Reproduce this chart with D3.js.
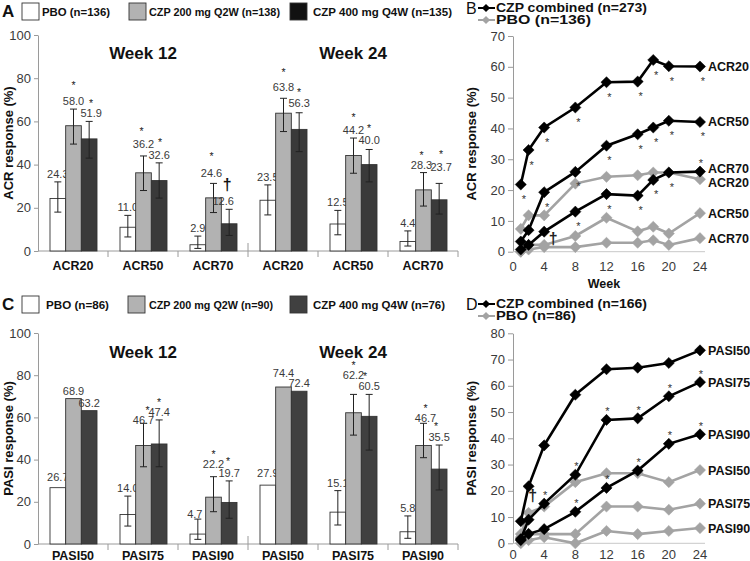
<!DOCTYPE html>
<html><head><meta charset="utf-8">
<script src="https://cdn.jsdelivr.net/npm/d3@7"></script>
<style>body{margin:0;background:#fff}svg{display:block}</style>
</head><body>
<svg id="c" width="750" height="561"></svg>
<script>
// ---------------- Panel A : ACR bars ----------------
const acrCats   = ["ACR20","ACR50","ACR70","ACR20","ACR50","ACR70"];
const acrTitles = ["Week 12","Week 24"];
const acrPbo    = [24.3, 11.0, 2.9, 23.5, 12.5, 4.4];
const acrQ2w    = [58.0, 36.2, 24.6, 63.8, 44.2, 28.3];
const acrQ4w    = [51.9, 32.6, 12.6, 56.3, 40.0, 23.7];
const acrPboLo  = [18.0, 6.5, 1.2, 16.7, 7.5, 2.3];
const acrPboHi  = [32.0, 16.5, 6.9, 30.6, 18.8, 9.3];
const acrQ2wLo  = [49.5, 28.0, 17.8, 55.3, 36.0, 20.8];
const acrQ2wHi  = [65.7, 44.0, 31.3, 70.7, 52.3, 36.3];
const acrQ4wLo  = [43.0, 24.5, 7.2, 46.0, 32.0, 17.1];
const acrQ4wHi  = [60.0, 40.8, 19.3, 64.0, 47.0, 31.3];
const acrPboSig = ["","","","","",""];
const acrQ2wSig = ["*","*","*","*","*","*"];
const acrQ4wSig = ["*","*","†","*","*","*"];
const acrLegend = ["PBO (n=136)","CZP 200 mg Q2W (n=138)","CZP 400 mg Q4W (n=135)"];

// ---------------- Panel C : PASI bars ----------------
const pasiCats   = ["PASI50","PASI75","PASI90","PASI50","PASI75","PASI90"];
const pasiTitles = ["Week 12","Week 24"];
const pasiPbo    = [26.7, 14.0, 4.7, 27.9, 15.1, 5.8];
const pasiQ2w    = [68.9, 46.7, 22.2, 74.4, 62.2, 46.7];
const pasiQ4w    = [63.2, 47.4, 19.7, 72.4, 60.5, 35.5];
const pasiPboLo  = [null, 8.5, 2.2, null, 9.0, 2.7];
const pasiPboHi  = [null, 22.7, 11.8, null, 25.3, 13.3];
const pasiQ2wLo  = [null, 36.6, 15.3, null, 51.6, 40.9];
const pasiQ2wHi  = [null, 57.2, 31.9, null, 70.9, 57.2];
const pasiQ4wLo  = [null, 36.6, 12.2, null, 44.5, 25.6];
const pasiQ4wHi  = [null, 58.8, 29.9, null, 70.9, 46.9];
const pasiPboSig = ["","","","","",""];
const pasiQ2wSig = ["","*","*","","*","*"];
const pasiQ4wSig = ["","*","*","","*","*"];
const pasiLegend = ["PBO (n=86)","CZP 200 mg Q2W (n=90)","CZP 400 mg Q4W (n=76)"];

const barTicks = [0,20,40,60,80,100];

// ---------------- Panel B : ACR over time ----------------
const bWeeks   = [1, 2, 4, 8, 12, 16, 18, 20, 24];
const bCzp20   = [21.8, 33.0, 40.3, 46.8, 55.0, 55.2, 62.2, 60.2, 60.1];
const bCzp50   = [3.3, 7.0, 19.3, 25.9, 34.4, 38.1, 40.3, 42.5, 42.1];
const bCzp70   = [0.7, 2.2, 6.5, 13.0, 18.7, 18.2, 23.3, 25.7, 26.0];
const bPbo20   = [7.4, 11.8, 11.8, 22.1, 24.3, 24.8, 25.7, 25.7, 23.5];
const bPbo50   = [0.0, 2.2, 2.2, 5.1, 11.0, 6.6, 8.1, 5.9, 12.5];
const bPbo70   = [0.0, 0.7, 1.5, 1.5, 2.9, 2.9, 3.7, 2.2, 4.4];
const bSig20   = ["*","*","*","*","*","*","*","*","*"];
const bSig50   = ["","","*","*","*","*","*","*","*"];
const bSig70   = ["","","†","*","*","*","*","*","^*"];
const bNames   = ["ACR20","ACR50","ACR70"];
const bLegend  = ["CZP combined (n=273)","PBO (n=136)"];
const bTicks   = [0,10,20,30,40,50,60,70];

// ---------------- Panel D : PASI over time ----------------
const dWeeks   = [1, 2, 4, 8, 12, 16, 20, 24];
const dCzp50   = [8.4, 21.7, 37.3, 56.6, 66.3, 66.9, 68.7, 73.5];
const dCzp75   = [1.6, 9.0, 15.1, 26.1, 47.0, 47.6, 56.0, 61.4];
const dCzp90   = [1.2, 3.6, 5.4, 12.0, 21.1, 27.7, 37.9, 41.5];
const dPbo50   = [3.5, 11.6, 14.0, 23.3, 26.7, 26.7, 23.3, 27.9];
const dPbo75   = [2.3, 3.5, 3.5, 3.5, 14.0, 14.0, 12.8, 15.1];
const dPbo90   = [0.0, 1.2, 2.3, 0.0, 4.7, 3.5, 4.7, 5.8];
const dSig50   = ["","","","","","","",""];
const dSig75   = ["","†","*","*","*","*","*","*"];
const dSig90   = ["","","","*","*","*","*","*"];
const dNames   = ["PASI50","PASI75","PASI90"];
const dLegend  = ["CZP combined (n=166)","PBO (n=86)"];
const dTicks   = [0,10,20,30,40,50,60,70,80];

const weekTicks = [0,4,8,12,16,20,24];

// ====================================================
const FONT = '"Liberation Sans", Arial, Helvetica, sans-serif';
const svg = d3.select("#c").attr("font-family", FONT);
const AXIS = "#9a9a9a", TXT = "#3a3a3a";

function styleAxis(g, fs){
  g.select(".domain").attr("stroke", AXIS);
  g.selectAll(".tick line").attr("stroke", AXIS);
  g.selectAll(".tick text").attr("fill", TXT).attr("font-size", fs).attr("font-family", FONT);
}

function barPanel(p){
  const g = svg.append("g");
  const x = d3.scaleBand().domain(d3.range(p.cats.length)).range([38, 458]);
  const xs = d3.scaleBand().domain([0,1,2]).range([12, x.bandwidth()-11]);
  const y = d3.scaleLinear().domain([0,100]).range([p.yBase, p.yTop]);

  const ya = g.append("g").attr("transform","translate(38,0)")
    .call(d3.axisLeft(y).tickValues(barTicks).tickSize(4).tickPadding(3).tickSizeOuter(0));
  styleAxis(ya, 13);

  g.append("line").attr("x1",38).attr("x2",458).attr("y1",y(0)).attr("y2",y(0)).attr("stroke",AXIS);
  d3.range(1, p.cats.length+1).forEach(i=>{
    const xx = x.range()[0] + i*x.step();
    g.append("line").attr("x1",xx).attr("x2",xx)
      .attr("y1", i===3 ? y(0)-8 : y(0)).attr("y2", y(0)+6).attr("stroke",AXIS);
  });
  g.selectAll(".cat").data(p.cats).join("text")
    .attr("x",(d,i)=>x(i)+x.bandwidth()/2).attr("y",y(0)+p.catDy)
    .attr("text-anchor","middle").attr("font-weight","bold").attr("font-size",12.5).attr("fill","#111")
    .text(d=>d);

  p.titles.forEach((t,k)=>{
    g.append("text").attr("x", x(k*3) + 1.5*x.step()).attr("y", p.titleY)
      .attr("text-anchor","middle").attr("font-weight","bold").attr("font-size",17).attr("fill","#111").text(t);
  });

  const series = [
    {v:p.pbo, lo:p.pboLo, hi:p.pboHi, sig:p.pboSig, fill:"#ffffff"},
    {v:p.q2w, lo:p.q2wLo, hi:p.q2wHi, sig:p.q2wSig, fill:"#b2b2b2"},
    {v:p.q4w, lo:p.q4wLo, hi:p.q4wHi, sig:p.q4wSig, fill:p.dark}
  ];
  series.forEach((s,si)=>{
    s.v.forEach((v,i)=>{
      const x0 = x(i)+xs(si), w = xs.bandwidth(), cx = x0 + w/2;
      g.append("rect").attr("x",x0).attr("y",y(v)).attr("width",w).attr("height",y(0)-y(v))
        .attr("fill",s.fill).attr("stroke","#333").attr("stroke-width",0.9);
      let top = y(v);
      if(s.lo[i]!=null){
        const y1 = y(s.hi[i]), y2 = y(s.lo[i]);
        g.append("line").attr("x1",cx).attr("x2",cx).attr("y1",y1).attr("y2",y2).attr("stroke","#222").attr("stroke-width",1);
        [y1,y2].forEach(yy=>g.append("line").attr("x1",cx-3.5).attr("x2",cx+3.5).attr("y1",yy).attr("y2",yy).attr("stroke","#222"));
        top = y1;
      }
      const adj = p.lblAdj[si][i];
      const base = top - 4 + adj[1];
      const lx = cx + adj[0];
      g.append("text").attr("x",lx).attr("y",base).attr("text-anchor","middle")
        .attr("font-size",11).attr("fill",TXT).text(v.toFixed(1));
      const lc = base - 4;
      const sa = p.sigAdj[si][i];
      if(s.sig[i]==="*"){
        g.append("text").attr("x",lx+sa[0]).attr("y",lc+p.sigDy+sa[1]+6).attr("text-anchor","middle")
          .attr("font-size",10.5).attr("fill","#222").text("*");
      } else if(s.sig[i]==="†"){
        g.append("text").attr("x",lx+sa[0]+2).attr("y",lc-16+sa[1]+5).attr("text-anchor","middle")
          .attr("font-size",16).attr("font-weight","bold").attr("fill","#111").text("†");
      }
    });
  });

  const fills = ["#ffffff","#b2b2b2",p.darkLegend];
  p.legend.forEach((t,k)=>{
    g.append("rect").attr("x",p.boxX[k]).attr("y",p.legY).attr("width",17).attr("height",17)
      .attr("fill",fills[k]).attr("stroke","#333").attr("stroke-width",0.9);
    g.append("text").attr("x",p.txtX[k]).attr("y",p.legY+13).attr("font-size",11.5).attr("font-weight","bold")
      .attr("fill","#111").attr("textLength",p.txtW[k]).attr("lengthAdjust","spacingAndGlyphs").text(t);
  });
  g.append("text").attr("x",2).attr("y",p.legY+14).attr("font-size",17).attr("font-weight","bold").attr("fill","#111").text(p.letter);

  g.append("text").attr("transform",`translate(8,${(p.yBase+p.yTop)/2}) rotate(-90)`)
    .attr("text-anchor","middle").attr("dominant-baseline","central")
    .attr("font-size",13).attr("font-weight","bold").attr("fill","#111").text(p.yTitle);
}

const diamond = d3.symbol(d3.symbolSquare, 62);
const diamondSmall = d3.symbol(d3.symbolSquare, 34);

function linePanel(p){
  const g = svg.append("g");
  const x = d3.scaleLinear().domain([0,24]).range([513,700]);
  const y = d3.scaleLinear().domain([0,p.max]).range([p.yBase,p.yTop]);

  const ya = g.append("g").attr("transform","translate(513,0)")
    .call(d3.axisLeft(y).tickValues(p.ticks).tickSize(5).tickPadding(3).tickSizeOuter(0));
  styleAxis(ya, 13);
  g.append("line").attr("x1",513).attr("x2",705).attr("y1",y(0)).attr("y2",y(0)).attr("stroke","#c8c8c8");
  g.selectAll(".wk").data(weekTicks).join("text")
    .attr("x",d=>x(d)).attr("y",y(0)+p.xTickDy).attr("text-anchor","middle")
    .attr("font-size",13).attr("fill",TXT).text(d=>d);

  const line = d3.line().x((d,i)=>x(p.weeks[i])).y(d=>y(d));
  const drawSeries = (vals, col, w)=>{
    g.append("path").attr("d",line(vals)).attr("fill","none").attr("stroke",col).attr("stroke-width",w);
    vals.forEach((v,i)=>{
      g.append("path").attr("d",diamond()).attr("transform",`translate(${x(p.weeks[i])},${y(v)}) rotate(45)`)
        .attr("fill",col).attr("stroke",col).attr("stroke-width",0.5);
    });
  };
  p.pbo.forEach(v=>drawSeries(v,"#a3a3a3",2.6));
  p.czp.forEach(v=>drawSeries(v,"#000",2.6));

  p.czp.forEach((vals,si)=>{
    vals.forEach((v,i)=>{
      const m = p.sig[si][i]; if(!m) return;
      const px = x(p.weeks[i]), py = y(v);
      if(m==="†"){
        const o = p.dagOff;
        g.append("text").attr("x",px+o[0]).attr("y",py+o[1]+5).attr("text-anchor","middle")
          .attr("font-size",16).attr("font-weight","bold").attr("fill","#222").text("†");
      } else {
        const above = m==="^*" || p.above;
        const cy = above ? py-11 : py+12;
        g.append("text").attr("x",px+(above?1:3)).attr("y",cy+6.5).attr("text-anchor","middle")
          .attr("font-size",11).attr("fill","#333").text("*");
      }
    });
  });

  const labs = [];
  p.czp.forEach((v,k)=>labs.push({t:p.names[k], y:y(v[v.length-1])}));
  p.pbo.forEach((v,k)=>labs.push({t:p.names[k], y:y(v[v.length-1])}));
  labs.sort((a,b)=>a.y-b.y);
  for(let it=0; it<5; it++){
    for(let i=1;i<labs.length;i++){
      const gap = labs[i].y-labs[i-1].y;
      if(gap<14){ const d=(14-gap)/2; labs[i].y+=d; labs[i-1].y-=d; }
    }
  }
  labs.forEach(l=>g.append("text").attr("x",708).attr("y",l.y+4.5).attr("font-size",12.5)
    .attr("font-weight","bold").attr("fill","#111").text(l.t));

  const ly = p.legY;
  [[ "#000", 0],["#a3a3a3",1]].forEach(([col,k])=>{
    const yy = ly + k*12;
    g.append("line").attr("x1",478).attr("x2",495).attr("y1",yy).attr("y2",yy).attr("stroke",col).attr("stroke-width",2);
    g.append("path").attr("d",diamondSmall()).attr("transform",`translate(486,${yy}) rotate(45)`).attr("fill",col);
    g.append("text").attr("x",496).attr("y",yy+4.3).attr("font-size",12).attr("font-weight","bold").attr("fill","#111")
      .attr("textLength",p.legW[k]).attr("lengthAdjust","spacingAndGlyphs").text(p.legend[k]);
  });
  g.append("text").attr("x",466).attr("y",ly+6).attr("font-size",16).attr("fill","#111").text(p.letter);

  g.append("text").attr("transform",`translate(471,${(p.yBase+p.yTop)/2}) rotate(-90)`)
    .attr("text-anchor","middle").attr("dominant-baseline","central")
    .attr("font-size",13).attr("font-weight","bold").attr("fill","#111").text(p.yTitle);
  if(p.xTitle) g.append("text").attr("x",604).attr("y",p.xTitleY).attr("text-anchor","middle")
    .attr("font-size",12.5).attr("font-weight","bold").attr("fill","#111").text(p.xTitle);
}

const Z6 = () => [[0,0],[0,0],[0,0],[0,0],[0,0],[0,0]];

barPanel({cats:acrCats, titles:acrTitles, pbo:acrPbo, q2w:acrQ2w, q4w:acrQ4w,
  pboLo:acrPboLo, pboHi:acrPboHi, q2wLo:acrQ2wLo, q2wHi:acrQ2wHi, q4wLo:acrQ4wLo, q4wHi:acrQ4wHi,
  pboSig:acrPboSig, q2wSig:acrQ2wSig, q4wSig:acrQ4wSig, legend:acrLegend,
  lblAdj:[Z6(), [[0,0],[0,-4],[-2,-2],[0,-3],[0,0],[-2,0]], [[2,0],[0,0],[-6,0],[0,-2],[0,-1],[2,-8]]],
  sigAdj:[Z6(), [[0,-3],[-2,0],[0,-4],[0,-2],[0,0],[0,3]], [[0,3],[1,0],[2,0],[0,2],[0,1],[0,0]]],
  sigDy:-15,
  yBase:251, yTop:35, catDy:18.5, titleY:59, dark:"#3a3a3a", darkLegend:"#111",
  legY:3, boxX:[22,129,290], txtX:[42,149,313], txtW:[68,131,139], letter:"A", yTitle:"ACR response (%)"});

barPanel({cats:pasiCats, titles:pasiTitles, pbo:pasiPbo, q2w:pasiQ2w, q4w:pasiQ4w,
  pboLo:pasiPboLo, pboHi:pasiPboHi, q2wLo:pasiQ2wLo, q2wHi:pasiQ2wHi, q4wLo:pasiQ4wLo, q4wHi:pasiQ4wHi,
  pboSig:pasiPboSig, q2wSig:pasiQ2wSig, q4wSig:pasiQ4wSig, legend:pasiLegend,
  lblAdj:[[[0,-3],[0,0],[-3,3],[0,-4],[0,0],[0,0]], [[0,0],[0,5],[0,-5],[0,-6],[0,-11],[2,3]], Z6()],
  sigAdj:[Z6(), [[0,0],[4,0],[0,0],[0,0],[0,0],[0,0]], [[0,0],[0,0],[-1,-2],[0,0],[-4,0],[-3,-1]]],
  sigDy:-12,
  yBase:544, yTop:333, catDy:15.5, titleY:357.5, dark:"#404040", darkLegend:"#404040",
  legY:296, boxX:[22,128,290], txtX:[46,149,313], txtW:[63,124,132], letter:"C", yTitle:"PASI response (%)"});

linePanel({weeks:bWeeks, czp:[bCzp20,bCzp50,bCzp70], pbo:[bPbo20,bPbo50,bPbo70],
  sig:[bSig20,bSig50,bSig70], names:bNames, legend:bLegend, ticks:bTicks, max:70,
  yBase:251.7, yTop:36, above:false, dagOff:[9,7], legY:8, legW:[151,95], letter:"B",
  xTickDy:19, yTitle:"ACR response (%)", xTitle:"Week", xTitleY:288});

linePanel({weeks:dWeeks, czp:[dCzp50,dCzp75,dCzp90], pbo:[dPbo50,dPbo75,dPbo90],
  sig:[dSig50,dSig75,dSig90], names:dNames, legend:dLegend, ticks:dTicks, max:80,
  yBase:543.3, yTop:333.3, above:true, dagOff:[4,-24], legY:304, legW:[151,80], letter:"D",
  xTickDy:16, yTitle:"PASI response (%)", xTitle:null});
</script>
</body></html>
